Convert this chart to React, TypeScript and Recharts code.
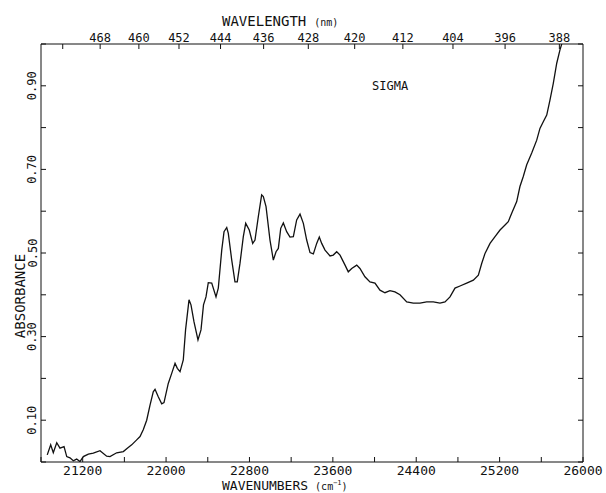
import React from 'react';
import { LineChart, Line, XAxis, YAxis } from 'recharts';

const wavenumbers = [
  20860, 20893, 20918, 20951, 20982, 21021, 21047, 21078, 21110, 21142, 21174, 21206,
  21254, 21302, 21366, 21430, 21462, 21526, 21590, 21628, 21670, 21718, 21750, 21781,
  21814, 21846, 21877, 21894, 21925, 21958, 21980, 22021, 22054, 22086, 22108, 22134,
  22165, 22187, 22220, 22239, 22268, 22306, 22335, 22359, 22383, 22405, 22438, 22479,
  22501, 22534, 22556, 22582, 22597, 22630, 22661, 22683, 22709, 22741, 22764, 22798,
  22831, 22853, 22885, 22917, 22933, 22959, 22997, 23029, 23055, 23077, 23100, 23125,
  23157, 23189, 23221, 23253, 23285, 23317, 23349, 23381, 23413, 23445, 23470, 23493,
  23525, 23573, 23604, 23637, 23669, 23717, 23748, 23781, 23829, 23860, 23908, 23956,
  24004, 24052, 24100, 24148, 24196, 24244, 24309, 24372, 24436, 24500, 24564, 24628,
  24676, 24724, 24772, 24820, 24884, 24948, 24996, 25028, 25060, 25108, 25156, 25204,
  25252, 25283, 25316, 25364, 25395, 25427, 25460, 25508, 25556, 25587, 25619, 25652,
  25683, 25715, 25748, 25779, 25796,
];

const absorbance = [
  0.017, 0.041, 0.022, 0.046, 0.033, 0.037, 0.013, 0.010, 0.003, 0.007, 0.001, 0.013,
  0.019, 0.021, 0.027, 0.014, 0.013, 0.022, 0.025, 0.033, 0.041, 0.053, 0.061, 0.077,
  0.100, 0.136, 0.168, 0.174, 0.156, 0.139, 0.142, 0.188, 0.212, 0.236, 0.224, 0.216,
  0.244, 0.316, 0.388, 0.376, 0.335, 0.292, 0.316, 0.376, 0.395, 0.429, 0.428, 0.395,
  0.416, 0.507, 0.551, 0.561, 0.547, 0.483, 0.431, 0.431, 0.475, 0.539, 0.571, 0.555,
  0.523, 0.531, 0.587, 0.639, 0.635, 0.611, 0.531, 0.483, 0.503, 0.511, 0.559, 0.572,
  0.551, 0.538, 0.539, 0.579, 0.593, 0.571, 0.531, 0.501, 0.498, 0.523, 0.538, 0.523,
  0.507, 0.493, 0.495, 0.503, 0.495, 0.471, 0.455, 0.463, 0.471, 0.463, 0.443, 0.431,
  0.428, 0.411, 0.405, 0.410, 0.407, 0.400, 0.383, 0.380, 0.380, 0.383, 0.383, 0.380,
  0.383, 0.395, 0.416, 0.421, 0.428, 0.435, 0.447, 0.475, 0.499, 0.523, 0.539, 0.555,
  0.567, 0.575, 0.595, 0.623, 0.659, 0.683, 0.711, 0.739, 0.770, 0.798, 0.814, 0.830,
  0.866, 0.906, 0.954, 0.986, 1.0,
];

const bottomTicks = [20800, 21200, 21600, 22000, 22400, 22800, 23200, 23600, 24000, 24400, 24800, 25200, 25600, 26000];
const bottomTickLabels = [21200, 22000, 22800, 23600, 24400, 25200, 26000];
const wavelengthTicks = [476, 468, 460, 452, 444, 436, 428, 420, 412, 404, 396, 388];
const wavelengthLabels = [468, 460, 452, 444, 436, 428, 420, 412, 404, 396, 388];
const absTicks = [0, 0.1, 0.2, 0.3, 0.4, 0.5, 0.6, 0.7, 0.8, 0.9, 1.0];
const absTickLabels = [0.1, 0.3, 0.5, 0.7, 0.9];

const data = wavenumbers.map((w, i) => ({ w, a: absorbance[i] }));
const topTickPositions = wavelengthTicks.map((nm) => 1e7 / nm);

const FONT = '"DejaVu Sans Mono", monospace';
const INK = '#111';

function BottomTick(props: any) {
  const { x, y, payload } = props;
  const v = payload.value;
  const show = bottomTickLabels.includes(v);
  return (
    <g>
      <line x1={x} y1={y} x2={x} y2={y - 5} stroke={INK} strokeWidth={1} />
      {show && (
        <text x={x} y={y + 13} textAnchor="middle" fontFamily={FONT} fontSize={13} fill={INK}>
          {v}
        </text>
      )}
    </g>
  );
}

function TopTick(props: any) {
  const { x, y, payload } = props;
  const nm = Math.round(1e7 / payload.value);
  const show = wavelengthLabels.includes(nm);
  return (
    <g>
      <line x1={x} y1={y} x2={x} y2={y + 5} stroke={INK} strokeWidth={1} />
      {show && (
        <text x={x} y={y - 2} textAnchor="middle" fontFamily={FONT} fontSize={12} fill={INK}>
          {nm}
        </text>
      )}
    </g>
  );
}

function LeftTick(props: any) {
  const { x, y, payload } = props;
  const v = payload.value;
  const show = absTickLabels.some((t) => Math.abs(t - v) < 1e-6);
  const lx = 32.5;
  return (
    <g>
      <line x1={x} y1={y} x2={x + 5} y2={y} stroke={INK} strokeWidth={1} />
      {show && (
        <text
          x={lx}
          y={y}
          transform={`rotate(-90, ${lx}, ${y})`}
          textAnchor="middle"
          dominantBaseline="central"
          fontFamily={FONT}
          fontSize={12}
          fill={INK}
        >
          {v.toFixed(2)}
        </text>
      )}
    </g>
  );
}

function RightTick(props: any) {
  const { x, y } = props;
  return <line x1={x} y1={y} x2={x - 5} y2={y} stroke={INK} strokeWidth={1} />;
}

export default function App() {
  return (
    <div style={{ position: 'absolute', left: 0, top: 0, width: 606, height: 493, background: '#fff' }}>
      <LineChart width={606} height={493} data={data} margin={{ top: 0, right: 0, bottom: 0, left: 0 }}>
        <XAxis
          xAxisId="bottom"
          dataKey="w"
          type="number"
          orientation="bottom"
          domain={[20800, 26000]}
          allowDataOverflow
          ticks={bottomTicks}
          interval={0}
          height={31}
          tickSize={0}
          tickMargin={0}
          tickLine={false}
          axisLine={{ stroke: INK, strokeWidth: 1 }}
          tick={<BottomTick />}
        />
        <XAxis
          xAxisId="top"
          dataKey="w"
          type="number"
          orientation="top"
          domain={[20800, 26000]}
          allowDataOverflow
          ticks={topTickPositions}
          interval={0}
          height={44}
          tickSize={0}
          tickMargin={0}
          tickLine={false}
          axisLine={{ stroke: INK, strokeWidth: 1 }}
          tick={<TopTick />}
        />
        <YAxis
          yAxisId="left"
          type="number"
          orientation="left"
          domain={[0, 1]}
          allowDataOverflow
          ticks={absTicks}
          interval={0}
          width={41}
          tickSize={0}
          tickMargin={0}
          tickLine={false}
          axisLine={{ stroke: INK, strokeWidth: 1 }}
          tick={<LeftTick />}
        />
        <YAxis
          yAxisId="right"
          type="number"
          orientation="right"
          domain={[0, 1]}
          allowDataOverflow
          ticks={absTicks}
          interval={0}
          width={23}
          tickSize={0}
          tickMargin={0}
          tickLine={false}
          axisLine={{ stroke: INK, strokeWidth: 1 }}
          tick={<RightTick />}
        />
        <Line
          xAxisId="top"
          yAxisId="right"
          type="linear"
          dataKey="a"
          stroke="none"
          strokeWidth={0}
          dot={false}
          activeDot={false}
          legendType="none"
          isAnimationActive={false}
        />
        <Line
          xAxisId="bottom"
          yAxisId="left"
          type="linear"
          dataKey="a"
          stroke={INK}
          strokeWidth={1.3}
          dot={false}
          isAnimationActive={false}
        />
      </LineChart>
      <svg
        width={606}
        height={493}
        style={{ position: 'absolute', left: 0, top: 0, pointerEvents: 'none' }}
      >
        <text x={222} y={26} fontFamily={FONT} fontSize={14} fill={INK}>
          WAVELENGTH
          <tspan fontSize={10} dx={8}>(nm)</tspan>
        </text>
        <text x={222} y={490} fontFamily={FONT} fontSize={13} fill={INK}>
          WAVENUMBERS
          <tspan fontSize={10} dx={7}>(cm</tspan>
          <tspan fontSize={7} dy={-5}>−1</tspan>
          <tspan fontSize={10} dy={5}>)</tspan>
        </text>
        <text
          x={20}
          y={296}
          transform="rotate(-90, 20, 296)"
          textAnchor="middle"
          dominantBaseline="central"
          fontFamily={FONT}
          fontSize={14}
          fill={INK}
        >
          ABSORBANCE
        </text>
        <text x={372} y={90} fontFamily={FONT} fontSize={12} fill={INK}>
          SIGMA
        </text>
      </svg>
    </div>
  );
}
